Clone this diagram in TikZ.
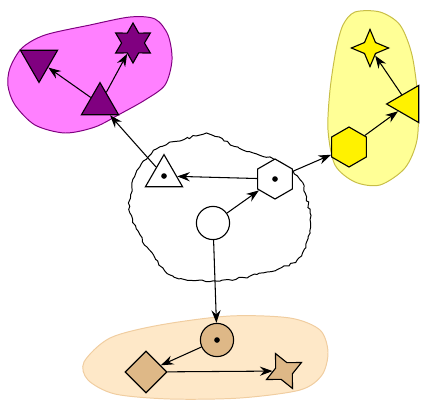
\documentclass[tikz,border=0pt]{standalone}
\usepackage{xcolor}
\usepackage{tikz}
\usetikzlibrary{arrows.meta,shapes.geometric,decorations.pathmorphing}
\definecolor{plumhull}{RGB}{255,128,255}
\definecolor{plumshape}{RGB}{128,0,128}
\definecolor{lemonhull}{RGB}{255,255,150}
\definecolor{lemonedge}{RGB}{200,190,70}
\definecolor{sandhull}{RGB}{254,232,200}
\definecolor{sandedge}{RGB}{240,205,160}
\definecolor{sandshape}{RGB}{222,184,135}

\tikzset{
  shp/.style={draw=black,line width=0.8pt,inner sep=0pt},
  tri/.style={shp,regular polygon,regular polygon sides=3,minimum size=1.07cm},
  hexa/.style={shp,regular polygon,regular polygon sides=6,shape border rotate=30,minimum size=1cm},
  ball/.style={shp,circle,minimum size=0.83cm},
  link/.style={line width=0.75pt,-{Stealth[length=9pt,width=6.5pt,inset=3pt]}},
  hull/.style={line width=0.7pt}
}

\begin{document}
\begin{tikzpicture}[x=0.025cm,y=-0.025cm]
  \useasboundingbox (0,0) rectangle (423,403);

  % hulls
  \draw[hull,draw=plumshape,fill=plumhull] plot[smooth cycle] coordinates {
    (10,68) (22,48) (45,35) (90,25) (130,17) (155,19) (168,35) (172,60)
    (165,85) (145,100) (120,114) (95,127) (65,133) (35,125) (15,105) (8,86)};
  \draw[hull,draw=lemonedge,fill=lemonhull] plot[smooth cycle] coordinates {
    (355,12) (380,12) (400,25) (412,55) (418,100) (417,140) (405,168)
    (380,185) (355,182) (335,165) (328,130) (330,90) (336,50) (343,25)};
  \draw[hull,draw=sandedge,fill=sandhull] plot[smooth cycle] coordinates {
    (84,362) (110,338) (160,325) (230,316) (290,318) (320,330) (328,352)
    (322,375) (300,390) (240,398) (170,399) (115,394) (88,380)};
  \draw[hull,fill=white,decorate,decoration={random steps,segment length=2.5pt,amplitude=0.8pt}]
    plot[smooth cycle] coordinates {
    (160,147) (200,135) (212,135) (243,150) (275,160) (300,180) (310,213)
    (310,233) (297,260) (267,272) (220,281) (173,276) (147,247) (130,213)
    (132,187) (140,167)};

  % nodes
  \node[ball,fill=white] (root) at (213,223) {};
  \node[tri,fill=white] (wtri) at (164,176) {};
  \node[hexa,fill=white] (whex) at (275,179) {};

  \node[tri,fill=plumshape] (ptri) at (100,104) {};
  \node[tri,fill=plumshape,shape border rotate=180] (pdown) at (39,61) {};
  \node[shp,star,star points=6,star point ratio=1.75,minimum size=1cm,fill=plumshape] (pstar) at (133,43) {};

  \node[hexa,fill=yellow] (yhex) at (349,147) {};
  \node[tri,fill=yellow,shape border rotate=90] (ytri) at (408,104) {};
  \node[shp,star,star points=4,star point ratio=2.4,minimum size=0.93cm,fill=yellow] (ystar) at (370,48) {};

  \node[ball,fill=sandshape] (tcirc) at (217,340) {};
  \node[shp,diamond,minimum size=1.05cm,fill=sandshape] (tdia) at (146,372) {};
  \node[shp,star,star points=4,star point ratio=2.2,minimum size=0.97cm,shape border rotate=26,fill=sandshape] (tstar) at (284,371) {};

  % dots
  \fill (wtri.center) circle (2pt);
  \fill (whex.center) circle (2pt);
  \fill (tcirc.center) circle (2pt);

  % links
  \draw[link] (root) -- (whex);
  \draw[link] (whex) -- (wtri);
  \draw[link] (root) -- (tcirc);
  \draw[link] (wtri) -- (ptri);
  \draw[link] (whex) -- (yhex);

  \draw[link] (ptri) -- (pdown);
  \draw[link] (ptri) -- (pstar);

  \draw[link] (yhex) -- (ytri);
  \draw[link] (ytri) -- (ystar);

  \draw[link] (tcirc) -- (tdia);
  \draw[link] (tdia) -- (tstar);
\end{tikzpicture}
\end{document}
